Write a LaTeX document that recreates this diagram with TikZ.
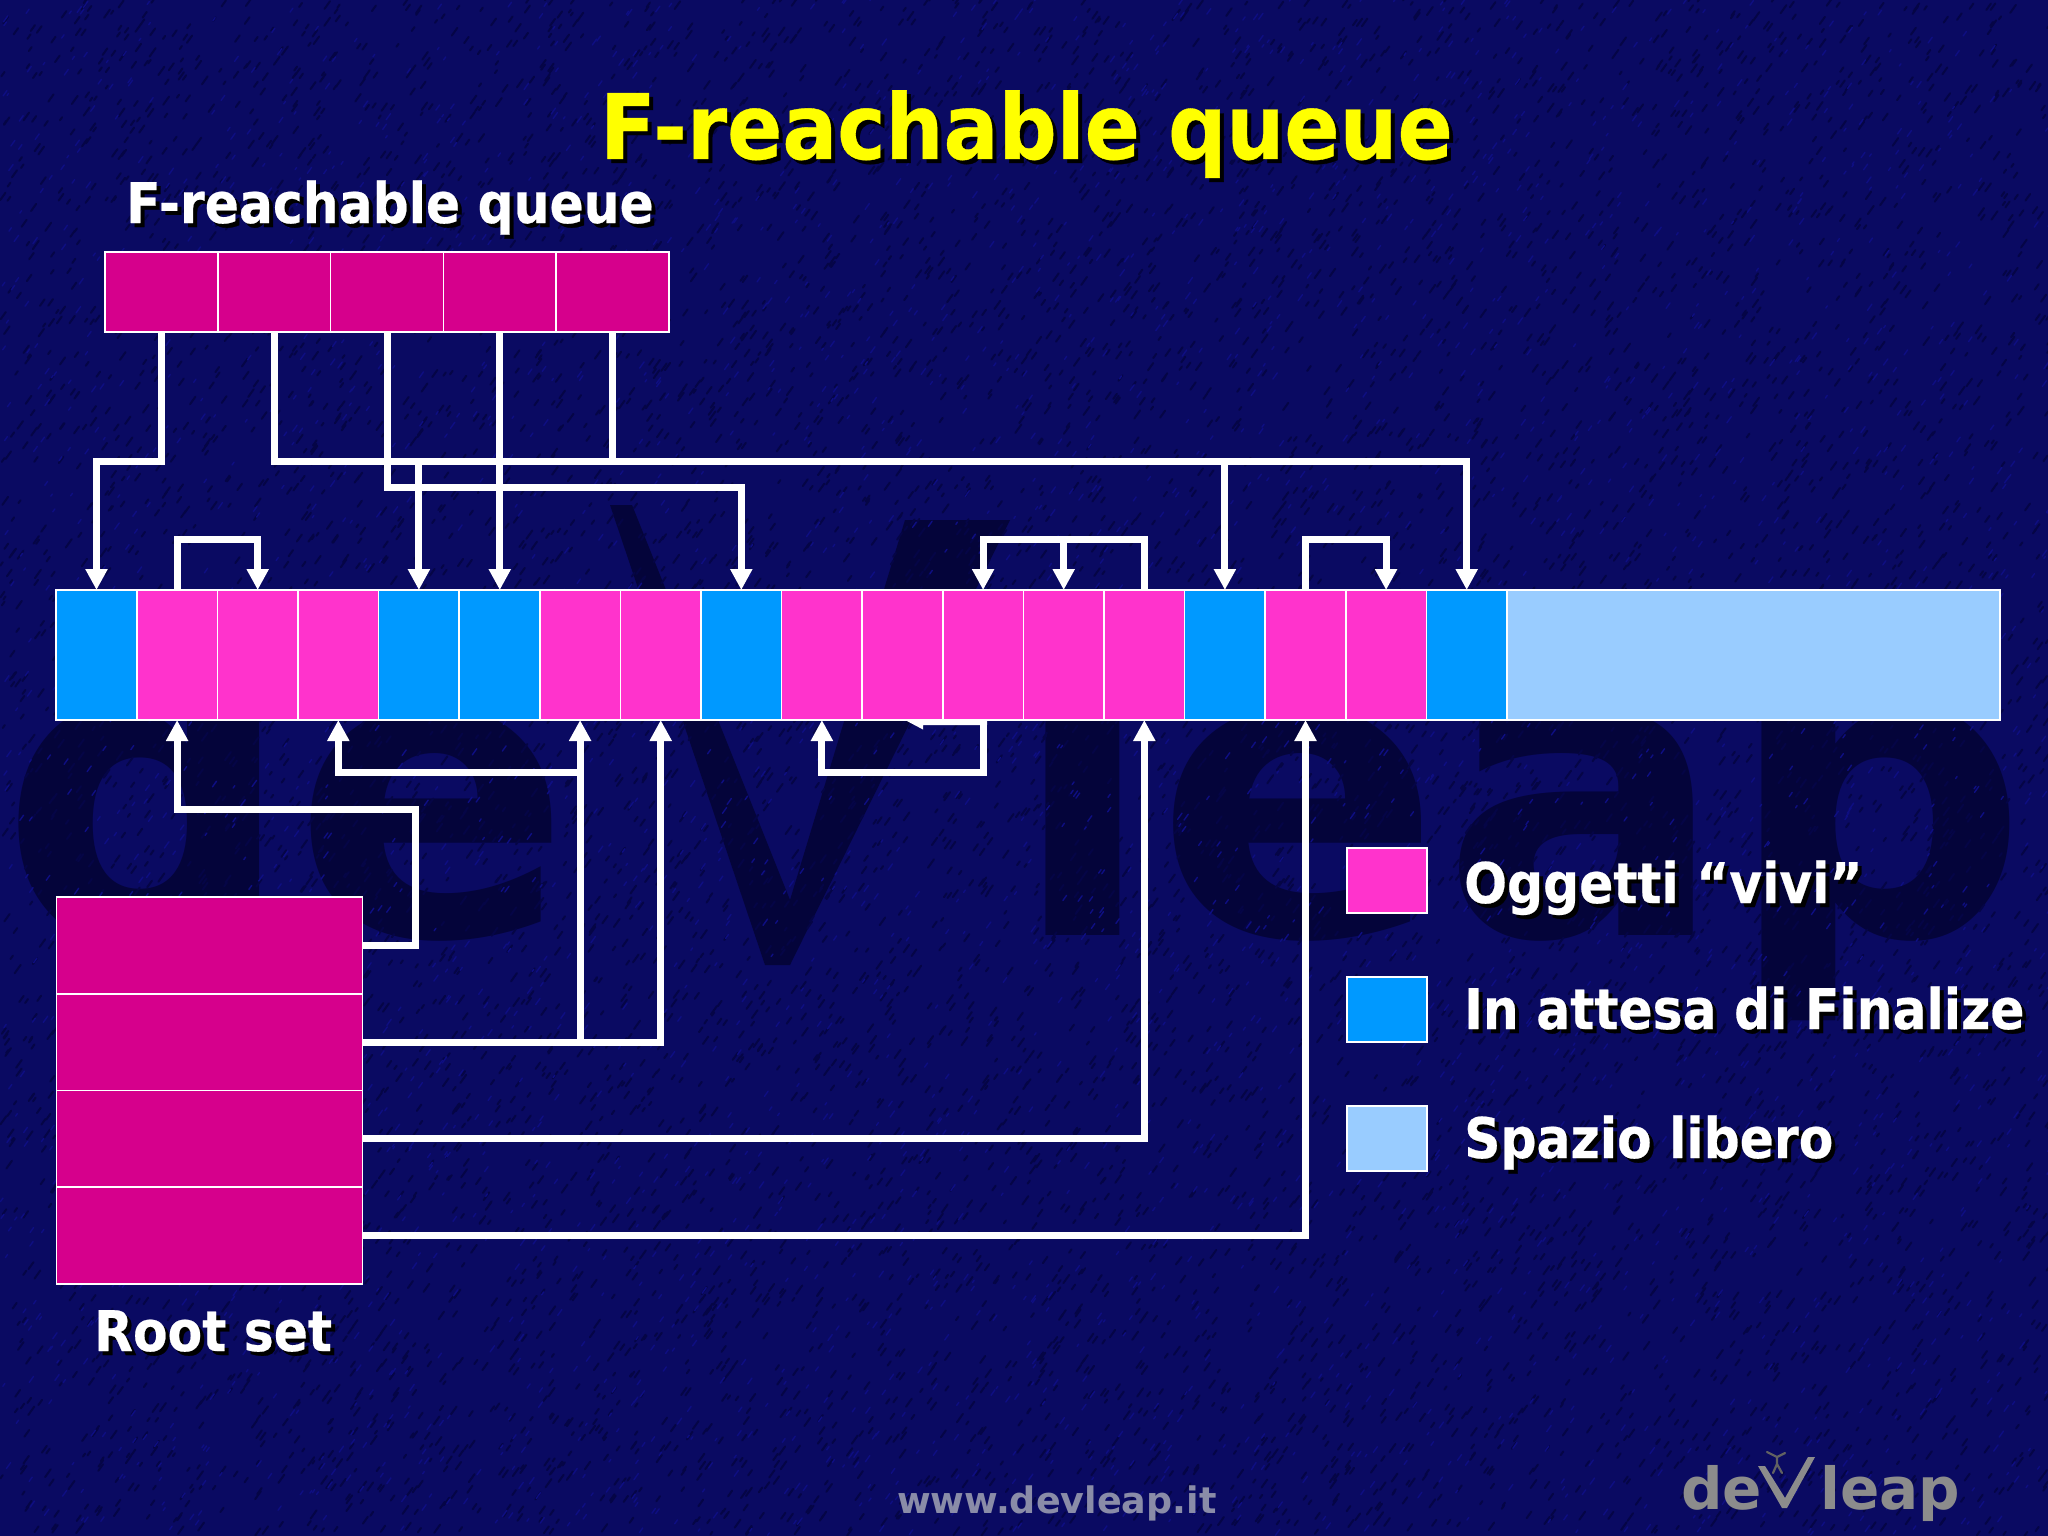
\documentclass[tikz,border=0pt]{standalone}
\usepackage{fontspec}
\setmainfont{DejaVu Sans}[BoldFont={DejaVu Sans Bold}]
\newfontfamily\cond{DejaVu Sans Condensed}[BoldFont={DejaVu Sans Condensed Bold},BoldFeatures={FakeBold=0.4}]
\definecolor{bgnavy}{HTML}{0A0A62}
\definecolor{bgdark}{HTML}{050546}
\definecolor{bgwm}{HTML}{04043A}
\definecolor{bghi}{HTML}{0E0E82}
\definecolor{deepmag}{HTML}{D6008C}
\definecolor{hotmag}{HTML}{FF33CC}
\definecolor{finblue}{HTML}{0099FF}
\definecolor{freeblue}{HTML}{99CCFF}
\definecolor{titleyel}{HTML}{FFFF00}
\definecolor{footgray}{HTML}{8A8CA8}
\definecolor{logogray}{HTML}{8C8C8C}
\usetikzlibrary{arrows.meta,calc}
\tikzset{
  x=1pt,y=-1pt,
  cell/.style={draw=white,line width=1.6pt,minimum width=80.6pt,minimum height=130pt,inner sep=0pt,outer sep=0pt,anchor=north west},
  qcell/.style={draw=white,line width=1.6pt,fill=deepmag,minimum width=112.8pt,minimum height=80pt,inner sep=0pt,outer sep=0pt,anchor=north west},
  rcell/.style={draw=white,line width=1.6pt,fill=deepmag,minimum width=306pt,minimum height=96.75pt,inner sep=0pt,outer sep=0pt,anchor=north west},
  lkey/.style={draw=white,line width=1.6pt,minimum width=80pt,minimum height=65pt,inner sep=0pt,outer sep=0pt,anchor=north west},
  wire/.style={draw=white,line width=7pt,line join=miter},
  arr/.style={wire,-{Triangle[length=21pt,width=21pt,fill=white]}},
  lab/.style={inner sep=0pt,anchor=base west,text=white,font=\cond\bfseries\fontsize{56}{60}\selectfont},
  wmark/.style={inner sep=0pt,anchor=base west,text=bgwm,font=\bfseries\fontsize{410}{420}\selectfont},
  logot/.style={inner sep=0pt,anchor=base west,text=logogray,font=\bfseries\fontsize{58}{62}\selectfont}
}
\newcommand{\shadowed}[5]{% name, x, y, style, text
  \node[lab,#4,text=black] at (#2+4,#3+4) {#5};
  \node[lab,#4] (#1) at (#2,#3) {#5};}
\begin{document}
\begin{tikzpicture}
\useasboundingbox (0,0) rectangle (2048,1536);
\fill[bgnavy] (0,0) rectangle (2048,1536);
% watermark
\begin{scope}
\clip (0,0) rectangle (2048,1536);
\node[wmark] (wmde) at (0,935) {de};
\node[wmark] (wmleap) at (1010,935) {\scalebox{1.03}[1]{leap}};
\fill[bgwm] (610,505) -- (632,505) -- (790,900) -- (905,520) -- (1010,520) -- (790,965) -- (765,965) -- cycle;
\end{scope}
% texture
\pgfmathsetseed{7}
\foreach \i in {1,...,9000}{
  \pgfmathsetmacro{\xa}{rnd*2048}\pgfmathsetmacro{\ya}{rnd*1536}
  \pgfmathsetmacro{\dxa}{2+rnd*4}
  \draw[bgdark,line width=2pt,line cap=round] (\xa,\ya) -- ++(\dxa,-1.4*\dxa);
}
\foreach \i in {1,...,3500}{
  \pgfmathsetmacro{\xa}{rnd*2048}\pgfmathsetmacro{\ya}{rnd*1536}
  \pgfmathsetmacro{\dxa}{1.5+rnd*3}
  \draw[bghi,line width=1.4pt,line cap=round] (\xa,\ya) -- ++(\dxa,-1.4*\dxa);
}
% cells of the heap
\foreach \n/\c [count=\k from 0] in {0/finblue,1/hotmag,2/hotmag,3/hotmag,4/finblue,5/finblue,6/hotmag,7/hotmag,8/finblue,9/hotmag,10/hotmag,11/hotmag,12/hotmag,13/hotmag,14/finblue,15/hotmag,16/hotmag,17/finblue}{
  \node[cell,fill=\c] (h\n) at ({56.2+80.6*\k},590) {};
}
\node[cell,fill=freeblue,minimum width=493pt] (hfree) at (1507,590) {};
% F-reachable cells
\foreach \k in {0,...,4}{ \node[qcell] (q\k) at ({105+112.8*\k},252) {}; }
% root set
\foreach \k in {0,...,3}{ \node[rcell] (r\k) at (56.5,{897+96.75*\k}) {}; }
% legend
\node[lkey,fill=hotmag] (k1) at (1347,848) {};
\node[lkey,fill=finblue] (k2) at (1347,977) {};
\node[lkey,fill=freeblue] (k3) at (1347,1106) {};
% queue connectors
\coordinate (ja) at (q0.south |- 0,461);
\draw[arr] (q0.south) -- (ja) -| (h0.north);
\draw[arr] (q1.south) |- (h14.north |- 0,461) -- (h14.north);
\draw[arr] (h14.north |- 0,461) -- (h17.north |- 0,461) -- (h17.north);
\draw[wire] (q4.south) -- (q4.south |- 0,461);
\draw[arr] (h4.north |- 0,461) -- (h4.north);
\draw[arr] (q2.south) |- (h8.north |- 0,487) -- (h8.north);
\draw[arr] (q3.south) -- (q3.south |- h5.north);
% top loops
\draw[arr] (h1.north) |- (h2.north |- 0,539) -- (h2.north);
\draw[arr] (h13.north) |- (h11.north |- 0,539) -- (h11.north);
\draw[arr] (h12.north |- 0,539) -- (h12.north);
\draw[arr] (h15.north) |- (h16.north |- 0,539) -- (h16.north);
% bottom loop
\draw[arr] (h11.south) |- (h9.south |- 0,772) -- (h9.south);
\fill[white] (905,720) -- (987,720) -- (987,725) -- (923,725) -- (923,729.5) -- cycle;
% root connectors
\draw[arr] (r0.east) -| (415,809) -| (h1.south);
\draw[arr] (r1.east) -| (h7.south);
\draw[arr] (h6.south |- r1.east) -- (h6.south);
\draw[arr] (h6.south |- 0,772) -| (h3.south);
\draw[arr] (r2.east) -| (h13.south);
\draw[arr] (r3.east) -| (h15.south);
% texts
\shadowed{title}{600}{159}{font=\cond\bfseries\fontsize{90.5}{94}\selectfont,text=titleyel}{F-reachable queue}
\shadowed{qlab}{126}{223}{}{F-reachable queue}
\shadowed{rlab}{94}{1351}{}{Root set}
\shadowed{l1}{1464}{903}{}{Oggetti “vivi”}
\shadowed{l2}{1464}{1029}{}{In attesa di Finalize}
\shadowed{l3}{1464}{1158}{}{Spazio libero}
\node[inner sep=0pt,anchor=base west,text=footgray,font=\bfseries\fontsize{36.5}{40}\selectfont] (www) at (897,1513) {www.devleap.it};
% logo
\node[logot] (lga) at (1681,1509) {de};
\node[logot] (lgb) at (1820,1509) {leap};
\fill[logogray] (1758,1466) -- (1765,1466) -- (1785,1498) -- (1808,1457) -- (1815,1457) -- (1787,1508) -- (1782,1508) -- cycle;
\draw[logogray!70!black,line width=2.2pt,line cap=round] (1767,1452) -- (1777,1457) -- (1785,1453) (1777,1457) -- (1777,1464) (1773,1473) -- (1777,1464) -- (1782,1473);
\end{tikzpicture}
\end{document}
